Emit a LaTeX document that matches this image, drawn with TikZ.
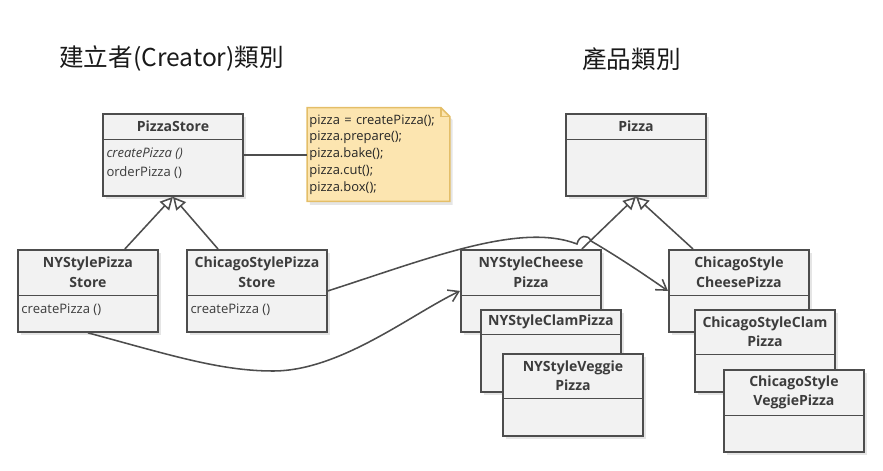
\documentclass[tikz,border=0pt]{standalone}
\usepackage{fontspec}
\setmainfont{Open Sans}
\newfontfamily\cjkfont{Noto Sans CJK TC}
\usetikzlibrary{positioning,arrows.meta,shadows,backgrounds}
\definecolor{umlline}{RGB}{77,77,77}
\definecolor{umlfill}{RGB}{242,242,242}
\definecolor{umltext}{RGB}{60,60,60}
\definecolor{notefill}{RGB}{252,229,176}
\definecolor{noteline}{RGB}{228,190,104}

\begin{document}
\begin{tikzpicture}[x=0.025cm, y=-0.025cm,
    classbox/.style={draw=umlline, fill=umlfill, line width=1.3pt, anchor=north west,
      minimum width=3.5cm, minimum height=2.05cm, inner sep=0pt,
      drop shadow={shadow xshift=2pt, shadow yshift=-2.5pt, fill=black, opacity=0.1}},
    classname/.style={anchor=north, text width=3.4cm, align=center, inner sep=0pt,
      font=\bfseries\fontsize{10}{13.8}\selectfont, text=umltext},
    classops/.style={anchor=north west, align=left, inner xsep=3pt, inner ysep=5.5pt,
      font=\fontsize{9.3}{13.5}\selectfont, text=umltext},
    divider/.style={draw=umlline, line width=1.3pt},
    inherit/.style={draw=umlline, line width=1.1pt, -{Triangle[length=9pt, width=9pt, fill=white]}},
    creates/.style={draw=umlline, line width=1.1pt, -{Straight Barb[length=7pt, width=9pt]}},
    assoc/.style={draw=umlline, line width=1.3pt},
    notetext/.style={minimum width=3.525cm, minimum height=2.325cm, text width=3.45cm,
      align=left, inner xsep=1.5pt, font=\fontsize{9.2}{11.9}\selectfont, text=black!85},
    notebox/.style={draw=noteline, fill=notefill, line width=1.1pt,
      drop shadow={shadow xshift=2pt, shadow yshift=-2.5pt, fill=black, opacity=0.1}},
    heading/.style={anchor=west, inner sep=0pt, font=\cjkfont\fontsize{17.5}{20}\selectfont, text=black!90}
  ]
    \useasboundingbox (0,0) rectangle (883,471);

    % Headings
    \node[heading] (creatorhead) at (59,59) {建立者(Creator)類別};
    \node[heading] (producthead) at (582,59) {產品類別};

    % Creator classes
    \node[classbox] (pizzastore) at (102,113) {};
    \node[classname, minimum height=0.65cm] (pizzastore-name) at (pizzastore.north) {PizzaStore};
    \draw[divider] (pizzastore-name.south -| pizzastore.west) -- (pizzastore-name.south -| pizzastore.east);
    \node[classops] (pizzastore-ops) at (pizzastore-name.south -| pizzastore.west) {\textit{createPizza ()}\\orderPizza ()};

    \node[classbox] (nystore) at (17,249) {};
    \node[classname, minimum height=1.15cm] (nystore-name) at (nystore.north) {NYStylePizza\\Store};
    \draw[divider] (nystore-name.south -| nystore.west) -- (nystore-name.south -| nystore.east);
    \node[classops] (nystore-ops) at (nystore-name.south -| nystore.west) {createPizza ()};

    \node[classbox] (chicagostore) at (186,249) {};
    \node[classname, minimum height=1.15cm] (chicagostore-name) at (chicagostore.north) {ChicagoStylePizza\\Store};
    \draw[divider] (chicagostore-name.south -| chicagostore.west) -- (chicagostore-name.south -| chicagostore.east);
    \node[classops] (chicagostore-ops) at (chicagostore-name.south -| chicagostore.west) {createPizza ()};

    % Product classes
    \node[classbox] (pizza) at (565,113) {};
    \node[classname, minimum height=0.65cm] (pizza-name) at (pizza.north) {Pizza};
    \draw[divider] (pizza-name.south -| pizza.west) -- (pizza-name.south -| pizza.east);

    \node[classbox] (nycheese) at (460,249) {};
    \node[classname, minimum height=1.15cm] (nycheese-name) at (nycheese.north) {NYStyleCheese\\Pizza};
    \draw[divider] (nycheese-name.south -| nycheese.west) -- (nycheese-name.south -| nycheese.east);

    \node[classbox] (nyclam) at (480,309) {};
    \node[classname, minimum height=0.625cm] (nyclam-name) at (nyclam.north) {NYStyleClamPizza};
    \draw[divider] (nyclam-name.south -| nyclam.west) -- (nyclam-name.south -| nyclam.east);

    \node[classbox] (nyveggie) at (502,353) {};
    \node[classname, minimum height=1.125cm] (nyveggie-name) at (nyveggie.north) {NYStyleVeggie\\Pizza};
    \draw[divider] (nyveggie-name.south -| nyveggie.west) -- (nyveggie-name.south -| nyveggie.east);

    \node[classbox] (chicagocheese) at (668,249) {};
    \node[classname, minimum height=1.15cm] (chicagocheese-name) at (chicagocheese.north) {ChicagoStyle\\CheesePizza};
    \draw[divider] (chicagocheese-name.south -| chicagocheese.west) -- (chicagocheese-name.south -| chicagocheese.east);

    \node[classbox] (chicagoclam) at (694,309) {};
    \node[classname, minimum height=1.125cm] (chicagoclam-name) at (chicagoclam.north) {ChicagoStyleClam\\Pizza};
    \draw[divider] (chicagoclam-name.south -| chicagoclam.west) -- (chicagoclam-name.south -| chicagoclam.east);

    \node[classbox] (chicagoveggie) at (723,369) {};
    \node[classname, minimum height=1.15cm] (chicagoveggie-name) at (chicagoveggie.north) {ChicagoStyle\\VeggiePizza};
    \draw[divider] (chicagoveggie-name.south -| chicagoveggie.west) -- (chicagoveggie-name.south -| chicagoveggie.east);

    % Note
    \node[notetext] (note) at (378.5,154.5) {pizza = createPizza();\\pizza.prepare();\\pizza.bake();\\pizza.cut();\\pizza.box();};
    \begin{scope}[on background layer]
      \draw[notebox] (note.north west) -- ([xshift=-0.225cm]note.north east) -- ([yshift=-0.225cm]note.north east)
        -- (note.south east) -- (note.south west) -- cycle;
      \draw[noteline, line width=1.1pt] ([xshift=-0.225cm]note.north east) |- ([yshift=-0.225cm]note.north east);
    \end{scope}
    \draw[assoc] (pizzastore.east) -- (pizzastore.east -| note.west);

    % Inheritance
    \draw[inherit] ([xshift=-0.85cm]nystore.north east) -- (pizzastore.south);
    \draw[inherit] ([xshift=0.8cm]chicagostore.north west) -- (pizzastore.south);
    \draw[inherit] ([xshift=-0.5cm]nycheese.north east) -- (pizza.south);
    \draw[inherit] ([xshift=0.625cm]chicagocheese.north west) -- (pizza.south);

    % Creates
    \draw[creates] (nystore.south) .. controls (170,355) and (220,371) .. (273,371)
      .. controls (340,371) and (410,315) .. (nycheese.west);
    \draw[creates] (chicagostore.east) .. controls (430,258) and (520,222) .. (577,244)
      .. controls (579,235) and (588,234) .. (591,241)
      .. controls (620,258) and (645,275) .. (chicagocheese.west);
\end{tikzpicture}
\end{document}
